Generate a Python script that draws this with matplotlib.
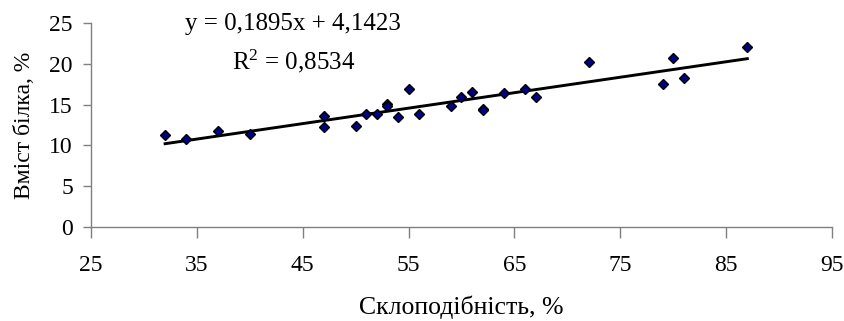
import matplotlib
matplotlib.use("Agg")
import matplotlib.pyplot as plt
import numpy as np

# Data
x_vals = [32, 34, 37, 40, 47, 47, 50, 51, 52, 53, 53, 54, 55, 56, 59, 60, 61, 62, 62, 64, 66, 67, 72, 79, 80, 81, 87]
y_vals = [11.3, 10.8, 11.8, 11.4, 13.6, 12.3, 12.4, 13.8, 13.8, 15.1, 14.8, 13.5, 16.9, 13.8, 14.8, 15.9, 16.6, 14.5, 14.3, 16.4, 16.9, 15.9, 20.2, 17.5, 20.7, 18.3, 22.0]
slope = 0.1895
intercept = 4.1423
r2 = 0.8534
x_ticks = [25, 35, 45, 55, 65, 75, 85, 95]
y_ticks = [0, 5, 10, 15, 20, 25]

plt.rcParams['font.family'] = ['Liberation Serif', 'DejaVu Serif']
plt.rcParams['mathtext.fontset'] = 'custom'
plt.rcParams['mathtext.rm'] = 'Liberation Serif'
plt.rcParams['mathtext.it'] = 'Liberation Serif:italic'

fig = plt.figure(figsize=(8.45, 3.21), dpi=100)
ax = fig.add_axes([91/845, 1 - 227/321, (832 - 91)/845, (227 - 23)/321])

xl = np.array([min(x_vals), max(x_vals)])
ax.plot(xl, slope * xl + intercept, color='black', lw=2.1, zorder=2)
ax.plot(x_vals, y_vals, linestyle='none', marker='D', ms=5.3,
        markerfacecolor='#000080', markeredgecolor='black', markeredgewidth=1.0, zorder=3)

ax.set_xlim(25, 95)
ax.set_ylim(0, 25)
ax.set_xticks(x_ticks)
ax.set_yticks(y_ticks)
for s in ['top', 'right']:
    ax.spines[s].set_visible(False)
for s in ['left', 'bottom']:
    ax.spines[s].set_color('#808080')
    ax.spines[s].set_linewidth(1.0)
ax.tick_params(axis='x', direction='out', length=8, width=1, color='#808080', pad=12, labelsize=17)
ax.tick_params(axis='y', direction='out', length=6, width=1, color='#808080', pad=7, labelsize=17)

ax.set_xlabel('Склоподібність, %', fontsize=18.5, labelpad=14)
ax.set_ylabel('Вміст білка, %', fontsize=17, labelpad=10)

ax.annotate(f'y = {slope:.4f}x + {intercept:.4f}'.replace('.', ','), xy=(293/845, 1 - 24/321),
            xycoords='figure fraction', ha='center', va='center', fontsize=18)
ax.annotate(f'R$^2$ = {r2:.4f}'.replace('.', ','), xy=(294/845, 1 - 61/321), xycoords='figure fraction',
            ha='center', va='center', fontsize=18)

fig.savefig('out.png', dpi=100)
